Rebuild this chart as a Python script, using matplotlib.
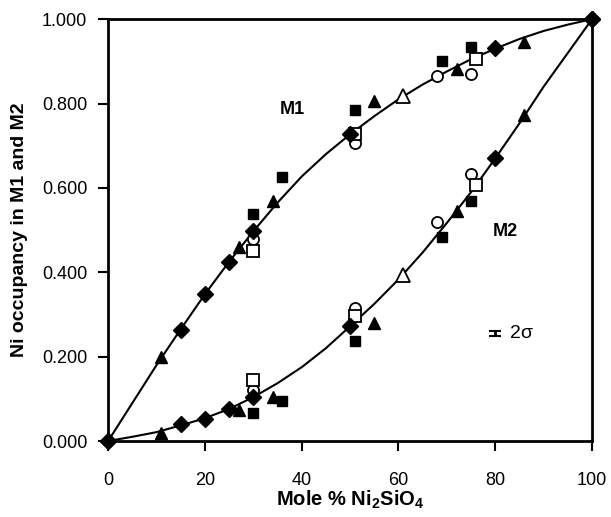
import matplotlib.pyplot as plt
import numpy as np

plt.rcParams['font.family'] = ['Liberation Sans', 'DejaVu Sans']
plt.rcParams['mathtext.fontset'] = 'custom'
plt.rcParams['mathtext.rm'] = 'Liberation Sans:bold'
plt.rcParams['mathtext.bf'] = 'Liberation Sans:bold'

# data (mole % Ni2SiO4, Ni occupancy)
diam_x = [0, 15, 20, 25, 30, 50, 80, 100]
diam_m1 = [0.0, 0.262, 0.348, 0.425, 0.497, 0.727, 0.932, 1.0]
diam_m2 = [0.0, 0.040, 0.053, 0.075, 0.105, 0.272, 0.670, 1.0]

tri_x = [11, 27, 34, 55, 72, 86]
tri_m1 = [0.198, 0.460, 0.570, 0.806, 0.882, 0.946]
tri_m2 = [0.019, 0.073, 0.105, 0.280, 0.545, 0.773]

sq_x = [30, 36, 51, 69, 75]
sq_m1 = [0.538, 0.625, 0.785, 0.900, 0.935]
sq_m2 = [0.066, 0.095, 0.237, 0.484, 0.568]

circ_x = [30, 51, 68, 75]
circ_m1 = [0.478, 0.706, 0.866, 0.870]
circ_m2 = [0.120, 0.316, 0.518, 0.632]

osq_x = [30, 51, 76]
osq_m1 = [0.450, 0.728, 0.905]
osq_m2 = [0.145, 0.297, 0.608]

otri_x = [61]
otri_m1 = [0.818]
otri_m2 = [0.393]

# fitted curves
fit_x = [0, 5, 10, 15, 20, 25, 30, 35, 40, 45, 50, 55, 60, 65, 70, 75, 80, 85, 90, 95, 100]
fit_m1 = [0.0, 0.09, 0.18, 0.265, 0.348, 0.425, 0.497, 0.565, 0.627, 0.68, 0.727,
          0.77, 0.81, 0.845, 0.876, 0.905, 0.930, 0.953, 0.972, 0.987, 1.0]
fit_m2 = [0.0, 0.01, 0.021, 0.037, 0.054, 0.076, 0.104, 0.137, 0.175, 0.22, 0.272,
          0.325, 0.383, 0.447, 0.517, 0.59, 0.67, 0.753, 0.84, 0.92, 1.0]

fig = plt.figure(figsize=(6.11, 5.17), dpi=100)
ax = fig.add_axes([0.177, 0.147, 0.792, 0.816])

ax.plot(fit_x, fit_m1, color='black', lw=1.5, zorder=2)
ax.plot(fit_x, fit_m2, color='black', lw=1.5, zorder=2)

for ys in (diam_m1, diam_m2):
    ax.plot(diam_x, ys, 'D', ms=8, color='black', ls='none', zorder=4, clip_on=False)
for ys in (tri_m1, tri_m2):
    ax.plot(tri_x, ys, '^', ms=8, color='black', ls='none', zorder=3)
for ys in (sq_m1, sq_m2):
    ax.plot(sq_x, ys, 's', ms=6.5, color='black', ls='none', zorder=3)
for ys in (circ_m1, circ_m2):
    ax.plot(circ_x, ys, 'o', ms=8, mfc='white', mec='black', mew=1.3, ls='none', zorder=3)
for ys in (osq_m1, osq_m2):
    ax.plot(osq_x, ys, 's', ms=8, mfc='white', mec='black', mew=1.3, ls='none', zorder=3)
for ys in (otri_m1, otri_m2):
    ax.plot(otri_x, ys, '^', ms=10, mfc='white', mec='black', mew=1.3, ls='none', zorder=3)

# 2 sigma error bar
ax.errorbar([80], [0.254], yerr=[0.006], fmt='none', ecolor='black', elinewidth=2,
            capsize=4.5, capthick=1.5)
ax.text(83, 0.254, '2σ', fontsize=14, va='center', ha='left')

ax.text(38, 0.786, 'M1', fontsize=13, fontweight='bold', ha='center', va='center')
ax.text(82, 0.497, 'M2', fontsize=13, fontweight='bold', ha='center', va='center')

ax.set_xlim(0, 100)
ax.set_ylim(0, 1.0)
ax.set_xticks(np.arange(0, 101, 20))
ax.set_yticks(np.arange(0, 1.01, 0.2))
ax.set_yticklabels(['%.3f' % v for v in np.arange(0, 1.01, 0.2)])
ax.tick_params(direction='out', length=7, width=1.5, labelsize=13, pad=8)
ax.tick_params(axis='x', pad=15)

for s in ax.spines.values():
    s.set_linewidth(2)

ax.set_xlabel('Mole % Ni$_2$SiO$_4$', fontsize=14.5, fontweight='bold', labelpad=0)
ax.set_ylabel('Ni occupancy in M1 and M2', fontsize=14, fontweight='bold', labelpad=10)

fig.savefig('out.png', dpi=100)
